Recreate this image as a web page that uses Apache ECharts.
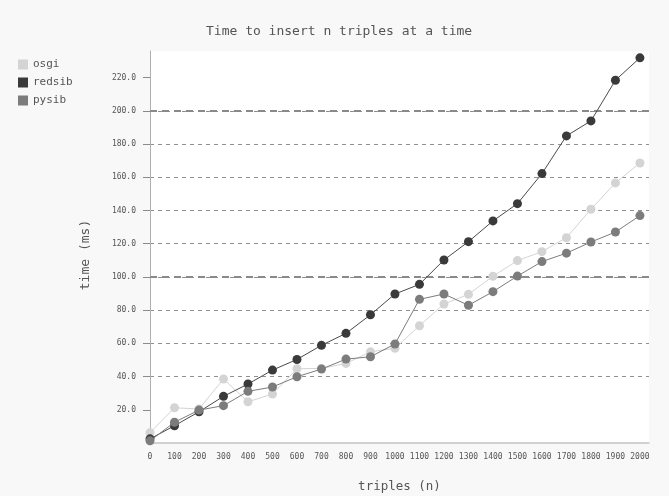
<!DOCTYPE html>
<html>
<head>
<meta charset="utf-8">
<script src="https://cdn.jsdelivr.net/npm/echarts@6/dist/echarts.min.js"></script>
<style>
html,body{margin:0;padding:0;background:#f8f8f8;}
#c{width:669px;height:496px;}
</style>
</head>
<body>
<div id="c"></div>
<script>
var categories = [0,100,200,300,400,500,600,700,800,900,1000,1100,1200,1300,1400,1500,1600,1700,1800,1900,2000];
var osgi   = [6.2,21.2,20.5,38.5,24.8,29.5,44.7,44.9,47.9,54.9,57.0,70.6,83.7,89.5,100.4,109.8,115.2,123.6,140.7,156.6,168.6];
var redsib = [2.5,10.4,18.8,28.1,35.5,43.9,50.3,58.8,66.0,77.2,89.7,95.5,110.2,121.2,133.7,144.1,162.2,184.9,193.9,218.4,231.9];
var pysib  = [1.3,12.5,19.8,22.5,31.1,33.7,39.9,44.5,50.5,51.9,59.6,86.5,89.7,82.9,91.1,100.5,109.2,114.3,121.0,127.0,136.9];
var yTicks = [20,40,60,80,100,120,140,160,180,200,220];
var majorLines = [100,200];

function pairs(arr){ return categories.map(function(x,i){ return [x, arr[i]]; }); }

var font = "'DejaVu Sans Mono', 'Liberation Mono', monospace";
var colors = ['#d4d4d4', '#3a3a3a', '#7c7c7c'];
var names = ['osgi','redsib','pysib'];
var datas = [osgi, redsib, pysib];

var series = datas.map(function(d, i){
  var s = {
    name: names[i], type: 'line', data: pairs(d),
    symbol: 'circle', symbolSize: 9,
    itemStyle: { color: colors[i] },
    lineStyle: { color: i === 1 ? '#4a4a4a' : colors[i], width: 1 },
    emphasis: { disabled: true },
    z: 3 + i
  };
  if (i === 0) {
    s.markLine = {
      silent: true, symbol: 'none', label: { show: false },
      lineStyle: { color: '#8a8a8a', type: [7, 5], width: 2 },
      data: majorLines.map(function(v){ return { yAxis: v }; }),
      z: 1
    };
  }
  return s;
});

var chart = echarts.init(document.getElementById('c'), null, {renderer: 'canvas'});
chart.setOption({
  backgroundColor: '#f8f8f8',
  animation: false,
  color: colors,
  title: {
    text: 'Time to insert n triples at a time',
    left: 201, top: 20,
    textStyle: { fontFamily: font, fontSize: 13, fontWeight: 'normal', color: '#555' }
  },
  legend: {
    orient: 'vertical', left: 13, top: 54,
    icon: 'rect', itemWidth: 10, itemHeight: 10, itemGap: 7,
    data: names,
    textStyle: { fontFamily: font, fontSize: 11, color: '#555' }
  },
  grid: {
    left: 150, right: 20, top: 51, bottom: 53,
    containLabel: false, outerBoundsMode: 'none',
    show: true, backgroundColor: '#ffffff', borderWidth: 0
  },
  xAxis: {
    type: 'value', min: 0, max: 2037, interval: 100, offset: 6,
    name: 'triples (n)', nameLocation: 'middle', nameGap: 31,
    nameTextStyle: { fontFamily: font, fontSize: 12.5, color: '#555' },
    axisLine: { show: true, lineStyle: { color: '#c4c4c4', width: 1.5 } },
    axisTick: { show: false },
    splitLine: { show: false },
    axisLabel: {
      fontFamily: font, fontSize: 8, color: '#555', margin: 4, showMaxLabel: false,
      formatter: function(v){ return String(v); }
    }
  },
  yAxis: {
    type: 'value', min: 0, max: 236, interval: 20,
    name: 'time (ms)', nameLocation: 'middle', nameGap: 58, nameRotate: 90,
    nameTextStyle: { fontFamily: font, fontSize: 13, color: '#555', padding: [0, 16, 0, 0] },
    axisLine: { show: true, lineStyle: { color: '#b0b0b0', width: 1 } },
    axisTick: { show: true, length: 7, customValues: yTicks, lineStyle: { color: '#8a8a8a' } },
    axisLabel: {
      fontFamily: font, fontSize: 8, color: '#555', margin: 14,
      customValues: yTicks,
      formatter: function(v){ return v.toFixed(1); }
    },
    splitLine: {
      show: true, showMinLine: false, showMaxLine: false,
      lineStyle: { color: '#8f8f8f', type: [4, 4], width: 1 }
    }
  },
  series: series
});
</script>
</body>
</html>
